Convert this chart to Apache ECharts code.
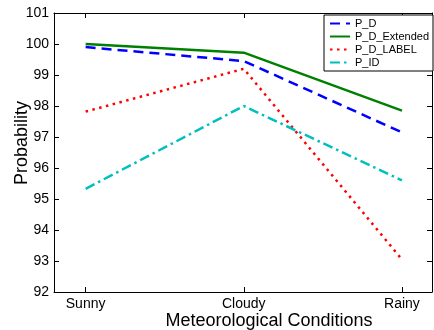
<!DOCTYPE html>
<html>
<head>
<meta charset="utf-8">
<script src="https://cdn.jsdelivr.net/npm/echarts@6/dist/echarts.min.js"></script>
<style>
html,body{margin:0;padding:0;background:#fff;}
#chart{width:434px;height:330px;}
</style>
</head>
<body>
<div id="chart"></div>
<script>
const categories = ['Sunny', 'Cloudy', 'Rainy'];
const pD = [99.9, 99.45, 97.15];
const pDExtended = [100.0, 99.72, 97.85];
const pDLabel = [97.82, 99.2, 93.05];
const pID = [95.33, 98.0, 95.6];
const yTicks = [92, 93, 94, 95, 96, 97, 98, 99, 100, 101];

const FONT = "'Liberation Sans', Arial, Helvetica, sans-serif";
const catPos = categories.map((c, i) => i + 1);
const toPairs = arr => arr.map((v, i) => [catPos[i], v]);

const chart = echarts.init(document.getElementById('chart'), null, {renderer: 'canvas'});

const xBase = {
  type: 'value', min: 0.8, max: 3.19,
  splitLine: {show: false},
  axisLine: {show: true, onZero: false, lineStyle: {color: '#000', width: 1}},
  axisTick: {show: true, inside: true, length: 5, customValues: catPos, lineStyle: {color: '#000'}},
};
const yBase = {
  type: 'value', min: yTicks[0], max: yTicks[yTicks.length - 1], interval: 1,
  splitLine: {show: false},
  axisLine: {show: true, onZero: false, lineStyle: {color: '#000', width: 1}},
  axisTick: {show: true, inside: true, length: 5, lineStyle: {color: '#000'}},
};

const lineSeries = (name, data, color, type) => ({
  name, type: 'line', data: toPairs(data), symbol: 'none',
  xAxisIndex: 0, yAxisIndex: 0,
  lineStyle: {color, width: 2.5, type},
  itemStyle: {color},
  emphasis: {disabled: true},
  animation: false
});

chart.setOption({
  animation: false,
  backgroundColor: '#fff',
  textStyle: {fontFamily: FONT},
  grid: {left: 54, right: 2, top: 13, bottom: 38, containLabel: false, outerBoundsMode: 'none'},
  legend: {
    orient: 'vertical', right: 1, top: 15,
    padding: [3, 4, 3, 5],
    itemWidth: 20, itemHeight: 10, itemGap: 2,
    itemStyle: {opacity: 0},
    borderColor: '#000', borderWidth: 1, backgroundColor: '#fff',
    textStyle: {fontFamily: FONT, fontSize: 11, color: '#000'},
    data: ['P_D', 'P_D_Extended', 'P_D_LABEL', 'P_ID']
  },
  xAxis: [
    Object.assign({}, xBase, {
      position: 'bottom',
      name: 'Meteorological Conditions', nameLocation: 'middle', nameGap: 20,
      nameMoveOverlap: false,
      nameTextStyle: {fontFamily: FONT, fontSize: 18, color: '#000', padding: [0, 0, 0, 52]},
      axisLabel: {
        show: true, margin: 5, customValues: catPos,
        fontFamily: FONT, fontSize: 14, color: '#000',
        formatter: v => categories[Math.round(v) - 1] || ''
      }
    }),
    Object.assign({}, xBase, {position: 'top', axisLabel: {show: false}})
  ],
  yAxis: [
    Object.assign({}, yBase, {
      position: 'left',
      name: 'Probability', nameLocation: 'middle', nameGap: 23,
      nameMoveOverlap: false,
      nameTextStyle: {fontFamily: FONT, fontSize: 18, color: '#000', padding: [0, 0, 0, 19]},
      axisLabel: {show: true, margin: 5, fontFamily: FONT, fontSize: 14, color: '#000'}
    }),
    Object.assign({}, yBase, {position: 'right', axisLabel: {show: false}})
  ],
  series: [
    lineSeries('P_D', pD, '#0000ff', [10, 6]),
    lineSeries('P_D_Extended', pDExtended, '#008000', 'solid'),
    lineSeries('P_D_LABEL', pDLabel, '#ff0000', [2.5, 4.5]),
    lineSeries('P_ID', pID, '#00bfbf', [10, 4, 2.5, 4])
  ]
});
</script>
</body>
</html>
